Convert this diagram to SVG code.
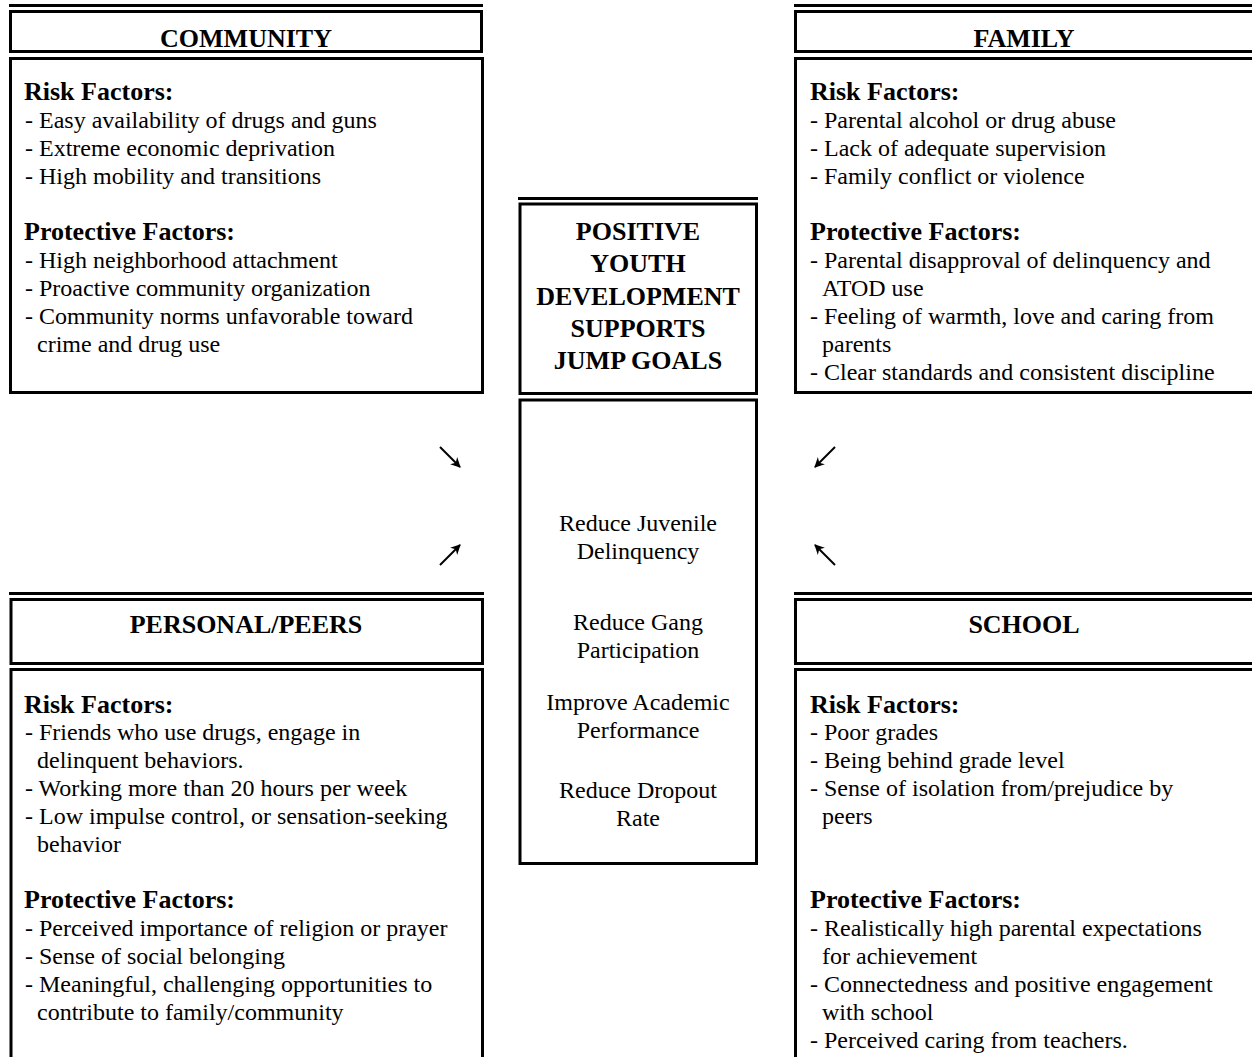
<svg xmlns="http://www.w3.org/2000/svg" width="1252" height="1057" viewBox="0 0 1252 1057">
<defs>
<style>
.box{fill:none;stroke:#000;stroke-width:3}
.rule{stroke:#000;stroke-width:3}
text{font-family:"Liberation Serif","Times New Roman",serif;fill:#000}
.h{font-size:26px;font-weight:bold;text-anchor:middle}
.s{font-size:26px;font-weight:bold}
.t{font-size:24px}
.c{font-size:24px;text-anchor:middle}
.arr{stroke:#000;stroke-width:2;fill:none;marker-end:url(#ah)}
</style>
<marker id="ah" viewBox="0 0 10 10" refX="9" refY="5" markerWidth="10" markerHeight="10" markerUnits="userSpaceOnUse" orient="auto">
<path d="M0,0 L10,5 L0,10 L3,5 Z" fill="#000"/>
</marker>
</defs>
<rect width="1252" height="1057" fill="#fff"/>

<g id="community">
<line class="rule" x1="9" y1="5.5" x2="483" y2="5.5"/>
<rect class="box" x="10.5" y="11.5" width="471" height="40"/>
<text class="h" x="246" y="47">COMMUNITY</text>
<rect class="box" x="10.5" y="58.5" width="472" height="334"/>
<text class="s" x="24" y="100">Risk Factors:</text>
<text class="t" x="25" y="128">- Easy availability of drugs and guns</text>
<text class="t" x="25" y="156">- Extreme economic deprivation</text>
<text class="t" x="25" y="184">- High mobility and transitions</text>
<text class="s" x="24" y="240">Protective Factors:</text>
<text class="t" x="25" y="268">- High neighborhood attachment</text>
<text class="t" x="25" y="296">- Proactive community organization</text>
<text class="t" x="25" y="324">- Community norms unfavorable toward</text>
<text class="t" x="37" y="352">crime and drug use</text>
</g>

<g id="family">
<line class="rule" x1="794" y1="5.5" x2="1252" y2="5.5"/>
<rect class="box" x="795.5" y="11.5" width="470" height="40"/>
<text class="h" x="1024" y="47">FAMILY</text>
<rect class="box" x="795.5" y="58.5" width="470" height="334"/>
<text class="s" x="810" y="100">Risk Factors:</text>
<text class="t" x="810" y="128">- Parental alcohol or drug abuse</text>
<text class="t" x="810" y="156">- Lack of adequate supervision</text>
<text class="t" x="810" y="184">- Family conflict or violence</text>
<text class="s" x="810" y="240">Protective Factors:</text>
<text class="t" x="810" y="268">- Parental disapproval of delinquency and</text>
<text class="t" x="822" y="296">ATOD use</text>
<text class="t" x="810" y="324">- Feeling of warmth, love and caring from</text>
<text class="t" x="822" y="352">parents</text>
<text class="t" x="810" y="380">- Clear standards and consistent discipline</text>
</g>

<g id="center-header">
<line class="rule" x1="518" y1="198.5" x2="758" y2="198.5"/>
<rect class="box" x="520" y="204" width="236.5" height="189.5"/>
<text class="h" x="638" y="240">POSITIVE</text>
<text class="h" x="638" y="272">YOUTH</text>
<text class="h" x="638" y="304.5">DEVELOPMENT</text>
<text class="h" x="638" y="337">SUPPORTS</text>
<text class="h" x="638" y="369">JUMP GOALS</text>
</g>

<g id="center-goals">
<rect class="box" x="520" y="400" width="236.5" height="463.5"/>
<text class="c" x="638" y="531">Reduce Juvenile</text>
<text class="c" x="638" y="559">Delinquency</text>
<text class="c" x="638" y="630">Reduce Gang</text>
<text class="c" x="638" y="658">Participation</text>
<text class="c" x="638" y="710">Improve Academic</text>
<text class="c" x="638" y="738">Performance</text>
<text class="c" x="638" y="798">Reduce Dropout</text>
<text class="c" x="638" y="826">Rate</text>
</g>

<g id="personal-peers">
<line class="rule" x1="9" y1="593.5" x2="484" y2="593.5"/>
<rect class="box" x="11" y="599.5" width="471.5" height="64"/>
<text class="h" x="246" y="633">PERSONAL/PEERS</text>
<rect class="box" x="11" y="669.5" width="471.5" height="400"/>
<text class="s" x="24" y="713">Risk Factors:</text>
<text class="t" x="25" y="740">- Friends who use drugs, engage in</text>
<text class="t" x="37" y="768">delinquent behaviors.</text>
<text class="t" x="25" y="796">- Working more than 20 hours per week</text>
<text class="t" x="25" y="824">- Low impulse control, or sensation-seeking</text>
<text class="t" x="37" y="852">behavior</text>
<text class="s" x="24" y="908">Protective Factors:</text>
<text class="t" x="25" y="936">- Perceived importance of religion or prayer</text>
<text class="t" x="25" y="964">- Sense of social belonging</text>
<text class="t" x="25" y="992">- Meaningful, challenging opportunities to</text>
<text class="t" x="37" y="1020">contribute to family/community</text>
</g>

<g id="school">
<line class="rule" x1="794" y1="593.5" x2="1252" y2="593.5"/>
<rect class="box" x="795.5" y="599.5" width="470" height="64"/>
<text class="h" x="1024" y="633">SCHOOL</text>
<rect class="box" x="795.5" y="669.5" width="470" height="400"/>
<text class="s" x="810" y="713">Risk Factors:</text>
<text class="t" x="810" y="740">- Poor grades</text>
<text class="t" x="810" y="768">- Being behind grade level</text>
<text class="t" x="810" y="796">- Sense of isolation from/prejudice by</text>
<text class="t" x="822" y="824">peers</text>
<text class="s" x="810" y="908">Protective Factors:</text>
<text class="t" x="810" y="936">- Realistically high parental expectations</text>
<text class="t" x="822" y="964">for achievement</text>
<text class="t" x="810" y="992">- Connectedness and positive engagement</text>
<text class="t" x="822" y="1020">with school</text>
<text class="t" x="810" y="1048">- Perceived caring from teachers.</text>
</g>

<g id="connectors">
<line class="arr" x1="440" y1="447" x2="460" y2="467"/>
<line class="arr" x1="835" y1="447" x2="815" y2="467"/>
<line class="arr" x1="440" y1="565" x2="460" y2="545"/>
<line class="arr" x1="835" y1="565" x2="815" y2="545"/>
</g>
</svg>
